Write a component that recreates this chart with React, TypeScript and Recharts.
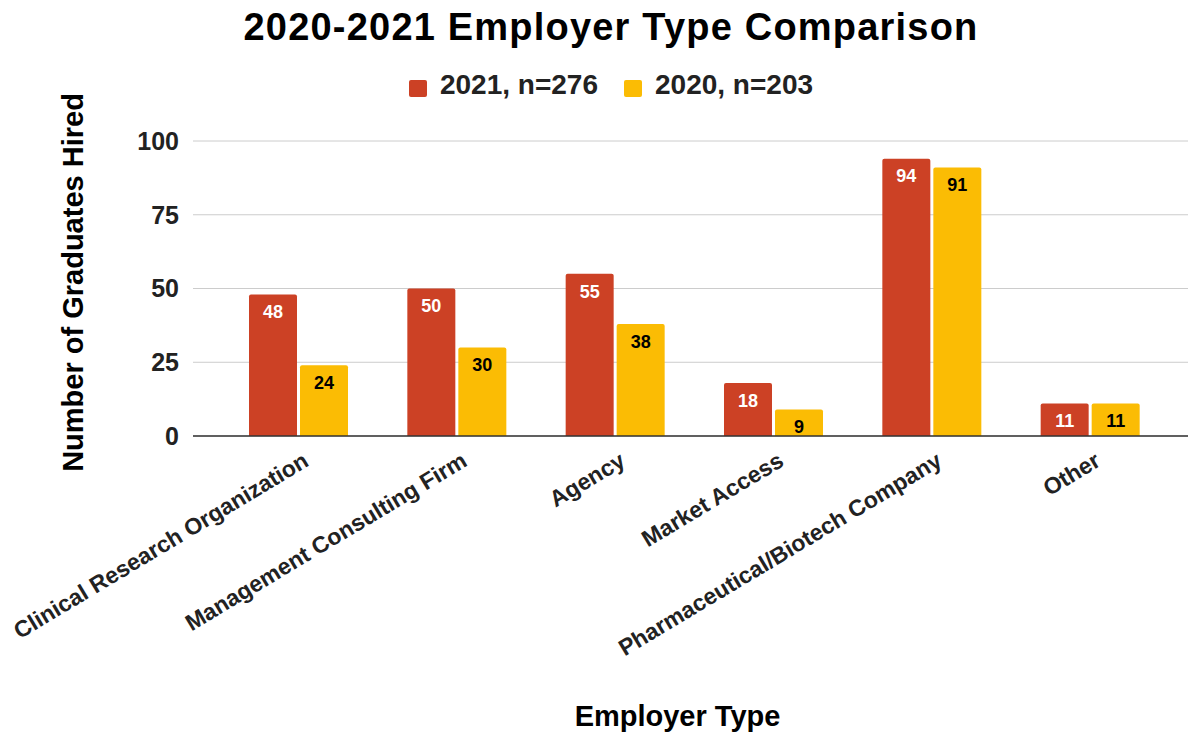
import React from "react";
import { BarChart, Bar, XAxis, YAxis, CartesianGrid, LabelList } from "recharts";

// Graduates hired by employer type, 2021 vs 2020.
const categories = [
  "Clinical Research Organization",
  "Management Consulting Firm",
  "Agency",
  "Market Access",
  "Pharmaceutical/Biotech Company",
  "Other",
];
const hired2021 = [48, 50, 55, 18, 94, 11];
const hired2020 = [24, 30, 38, 9, 91, 11];
const yTicks = [0, 25, 50, 75, 100];

const series = [
  { key: "y2021", name: "2021, n=276", color: "#CC4125", labelColor: "#FFFFFF" },
  { key: "y2020", name: "2020, n=203", color: "#FBBC04", labelColor: "#000000" },
];

const data = categories.map((name, i) => ({
  name,
  y2021: hired2021[i],
  y2020: hired2020[i],
}));

const FONT = '"Liberation Sans", Arial, sans-serif';

function AngledTick(props: any) {
  const { x, y, payload } = props;
  const tx = x + 12;
  const ty = y + 29;
  return (
    <text
      x={tx}
      y={ty}
      textAnchor="end"
      transform={`rotate(-31, ${tx}, ${ty})`}
      fontSize={23}
      fontWeight={700}
      fill="#222"
      fontFamily={FONT}
    >
      {payload.value}
    </text>
  );
}

export default function App() {
  return (
    <div
      style={{
        position: "absolute",
        left: 0,
        top: 0,
        width: 1188,
        height: 734,
        background: "#fff",
        fontFamily: FONT,
        overflow: "hidden",
      }}
    >
      <BarChart
        width={1188}
        height={734}
        data={data}
        margin={{ top: 141, right: 0, bottom: 0, left: 0 }}
        barGap={3}
        barSize={48}
      >
        <CartesianGrid vertical={false} stroke="#ccc" />
        <XAxis
          dataKey="name"
          height={298}
          interval={0}
          padding={{ left: 26, right: 19 }}
          axisLine={{ stroke: "#333", strokeWidth: 1.5 }}
          tickLine={false}
          tickSize={0}
          tickMargin={0}
          tick={<AngledTick />}
          label={{
            value: "Employer Type",
            position: "insideBottom",
            offset: 8,
            dx: -13,
            fontSize: 29,
            fontWeight: 700,
            fill: "#000",
          }}
        />
        <YAxis
          width={193}
          domain={[0, 100]}
          ticks={yTicks}
          axisLine={false}
          tickLine={false}
          tickSize={0}
          tickMargin={14}
          tick={{ fontSize: 25, fontWeight: 700, fill: "#222" }}
          label={{
            value: "Number of Graduates Hired",
            angle: -90,
            position: "insideLeft",
            offset: 73,
            dy: -6,
            textAnchor: "middle",
            fontSize: 29,
            fontWeight: 700,
            fill: "#000",
          }}
        />
        {series.map((s) => (
          <Bar
            key={s.key}
            dataKey={s.key}
            name={s.name}
            fill={s.color}
            radius={[2, 2, 0, 0]}
            isAnimationActive={false}
          >
            <LabelList
              dataKey={s.key}
              position="insideTop"
              offset={11}
              fill={s.labelColor}
              fontSize={18}
              fontWeight={700}
            />
          </Bar>
        ))}
      </BarChart>

      <div
        style={{
          position: "absolute",
          top: 8,
          left: 0,
          width: 1188,
          paddingLeft: 34,
          boxSizing: "border-box",
          textAlign: "center",
          fontSize: 38,
          lineHeight: "38px",
          fontWeight: 700,
          color: "#000",
          letterSpacing: 1.2,
        }}
      >
        2020-2021 Employer Type Comparison
      </div>

      <div
        style={{
          position: "absolute",
          top: 71,
          left: 0,
          width: 1188,
          paddingLeft: 34,
          boxSizing: "border-box",
          display: "flex",
          justifyContent: "center",
          gap: 26,
          fontSize: 28,
          lineHeight: "28px",
          fontWeight: 700,
          color: "#222",
        }}
      >
        {series.map((s) => (
          <div key={s.key} style={{ display: "flex", alignItems: "center", gap: 13 }}>
            <span
              style={{
                width: 18,
                height: 17,
                background: s.color,
                borderRadius: 2,
                display: "inline-block",
                marginTop: 6,
              }}
            />
            <span>{s.name}</span>
          </div>
        ))}
      </div>
    </div>
  );
}
